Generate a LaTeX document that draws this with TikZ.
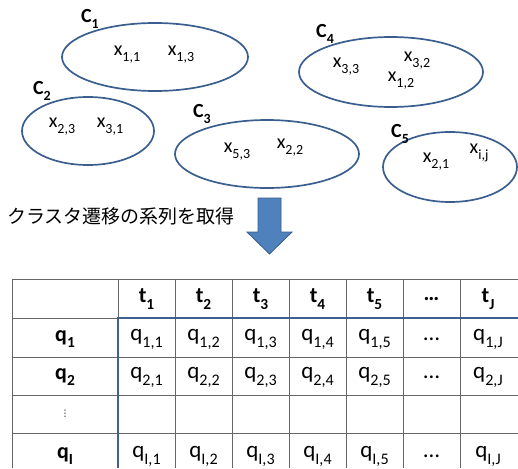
\documentclass[tikz,border=0pt]{standalone}
\usepackage{fontspec}
\setmainfont{Carlito}
\newfontfamily\cjk{Noto Sans CJK JP}
\newfontfamily\djv{DejaVu Sans}
\definecolor{ellc}{HTML}{3A5F8E}
\definecolor{arrf}{HTML}{4F81BD}
\definecolor{arrd}{HTML}{385D8A}
\definecolor{gridc}{HTML}{666666}
\definecolor{thickc}{HTML}{3F5F8F}
\newcommand{\sbs}[1]{\raisebox{-0.3em}{\scalebox{0.7}{#1}}}
\begin{document}
\begin{tikzpicture}[x=1pt,y=-1pt,
  clus/.style={draw=ellc,line width=1.7pt},
  elt/.style={font=\fontsize{20}{20}\selectfont,inner sep=0pt},
  clab/.style={font=\fontsize{20}{20}\selectfont\bfseries,inner sep=0pt},
  hd/.style={font=\fontsize{22}{22}\selectfont\bfseries,inner sep=0pt},
  cell/.style={font=\fontsize{23}{23}\selectfont,inner sep=0pt},
  gl/.style={draw=gridc,line width=0.9pt},
  thk/.style={draw=thickc,line width=2.6pt}]
\useasboundingbox (0,0) rectangle (518,468);
% clusters
\draw[clus] (155,57) ellipse [x radius=93,y radius=34];
\draw[clus] (88,131) ellipse [x radius=66,y radius=34];
\draw[clus] (267,154) ellipse [x radius=92,y radius=34];
\draw[clus] (391,72) ellipse [x radius=92,y radius=35];
\draw[clus] (450,167) ellipse [x radius=67,y radius=35];
\node[clab] (c1) at (90,19) {C\sbs{1}};
\node[clab] (c2) at (42,91) {C\sbs{2}};
\node[clab] (c3) at (202,114) {C\sbs{3}};
\node[clab] (c4) at (325,34) {C\sbs{4}};
\node[clab] (c5) at (400,134) {C\sbs{5}};
\node[elt] (x11) at (127,55) {x\sbs{1,1}};
\node[elt] (x13) at (181,55) {x\sbs{1,3}};
\node[elt] (x23) at (62,127) {x\sbs{2,3}};
\node[elt] (x31) at (110,127) {x\sbs{3,1}};
\node[elt] (x53) at (237,152) {x\sbs{5,3}};
\node[elt] (x22) at (290,148) {x\sbs{2,2}};
\node[elt] (x33) at (346,67) {x\sbs{3,3}};
\node[elt] (x32) at (417,61) {x\sbs{3,2}};
\node[elt] (x12) at (401,81) {x\sbs{1,2}};
\node[elt] (x21) at (436,162) {x\sbs{2,1}};
\node[elt] (xij) at (479,153) {x\sbs{i,j}};
% caption
\node[anchor=west,inner sep=0pt,font=\cjk\fontsize{19}{19}\selectfont] (cap) at (7,216) {クラスタ遷移の系列を取得};
% block arrow
\draw[fill=arrf,draw=arrd,line width=0.8pt] (258,198) -- (281,198) -- (281,232) -- (292,232) -- (269.5,254) -- (247,232) -- (258,232) -- cycle;
% table grid
\draw[gl] (12,468) -- (12,279) -- (518,279);
\foreach \x in {175,232,289,346,403,460} \draw[gl] (\x,279) -- (\x,468);
\draw[gl] (118,279) -- (118,318);
\foreach \y in {357,395,433} \draw[gl] (12,\y) -- (518,\y);
\draw[gl] (12,318) -- (118,318);
\draw[thk] (118,468) -- (118,318) -- (518,318);
% headers
\node[hd] (t1) at (146.5,299) {t\sbs{1}};
\node[hd] (t2) at (203.5,299) {t\sbs{2}};
\node[hd] (t3) at (260.5,299) {t\sbs{3}};
\node[hd] (t4) at (317.5,299) {t\sbs{4}};
\node[hd] (t5) at (374.5,299) {t\sbs{5}};
\node[hd] (td) at (431.5,299) {…};
\node[hd] (tJ) at (488,299) {t\sbs{J}};
\node[hd] (q1) at (65,339) {q\sbs{1}};
\node[hd] (q2) at (65,377) {q\sbs{2}};
\node[inner sep=0pt,font=\djv\fontsize{9}{9}\selectfont] (qd) at (65,414) {⋮};
\node[hd] (qI) at (65,456) {q\sbs{I}};
% cells
\foreach \r/\y in {1/339,2/377,I/456}{
  \node[cell] at (146.5,\y) {q\sbs{\r,1}};
  \node[cell] at (203.5,\y) {q\sbs{\r,2}};
  \node[cell] at (260.5,\y) {q\sbs{\r,3}};
  \node[cell] at (317.5,\y) {q\sbs{\r,4}};
  \node[cell] at (374.5,\y) {q\sbs{\r,5}};
  \node[cell] at (431.5,\y) {…};
  \node[cell] at (488,\y) {q\sbs{\r,J}};
}
\end{tikzpicture}
\end{document}
